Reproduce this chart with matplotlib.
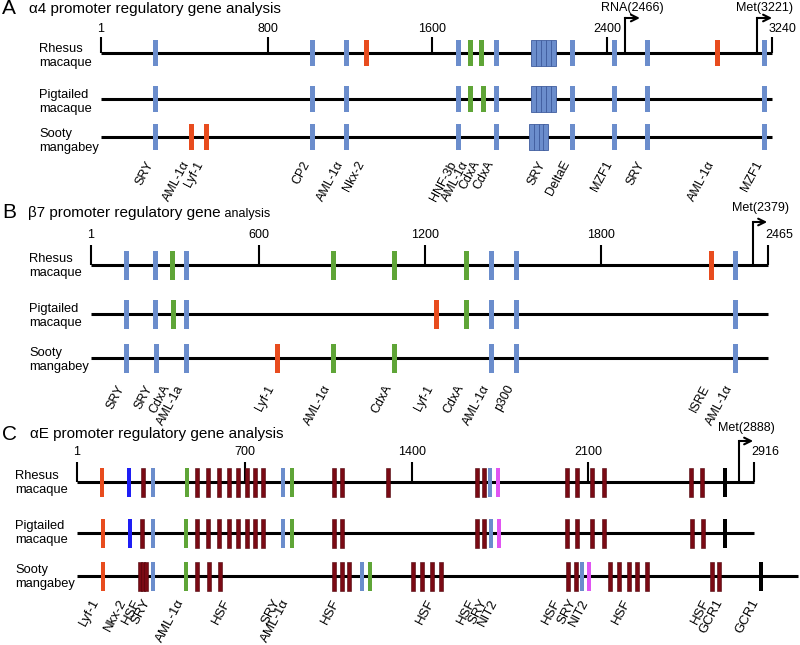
import matplotlib
matplotlib.use("Agg")
import matplotlib.pyplot as plt
from matplotlib.transforms import offset_copy

plt.rcParams["font.family"] = ["Liberation Sans", "DejaVu Sans"]

# ===== Colours =====
COLORS = {
    "b": "#6B8DCC",  # light blue
    "c": "#6B8DCC",  # light blue, boxed cluster
    "r": "#E84C1E",  # red-orange
    "g": "#5FA537",  # green
    "m": "#7A0A14",  # maroon
    "n": "#1E1EF5",  # pure blue
    "p": "#E055F2",  # magenta
    "k": "#000000",
}

SPECIES = ["Rhesus\nmacaque", "Pigtailed\nmacaque", "Sooty\nmangabey"]

# ===== Panel A: alpha4 promoter =====
A_TITLE = "α4 promoter regulatory gene analysis"
A_LENGTHS = [3240, 3240, 3240]
A_TICKS = [1, 807, 1599, 2443, 3240]
A_TICK_LABELS = ["1", "800", "1600", "2400", "3240"]
A_ARROWS = [2530, 3168]
A_ARROW_LABELS = ["RNA(2466)", "Met(3221)"]

A_RHESUS_POS = [266, 1024, 1184, 1285, 1729, 1787, 1840, 1908, 2088, 2112, 2136,
                2160, 2184, 2275, 2482, 2637, 2975, 3206]
A_RHESUS_COL = "bbbrbggbcccccbbbrb"
A_PIG_POS = [266, 1024, 1184, 1729, 1787, 1845, 1908, 2088, 2112, 2136, 2160, 2184,
             2275, 2482, 2637, 3206]
A_PIG_COL = "bbbbggbcccccbbbb"
A_SOOTY_POS = [266, 440, 508, 1024, 1184, 1729, 1908, 2077, 2101, 2125, 2149, 2275,
               2482, 2637, 3206]
A_SOOTY_COL = "brrbbbbccccbbbb"

A_LABEL_POS = [266, 440, 508, 1024, 1184, 1285, 1729, 1787, 1840, 1908, 2159, 2275,
               2482, 2637, 2975, 3206]
A_LABELS = ["SRY", "AML-1α", "Lyf-1", "CP2", "AML-1α", "Nkx-2", "HNF-3b", "AML-1α",
            "CdxA", "CdxA", "SRY", "DeltaE", "MZF1", "SRY", "AML-1α", "MZF1"]

# ===== Panel B: beta7 promoter =====
B_TITLE = "β7 promoter regulatory gene"
B_TITLE_SMALL = " analysis"
B_LENGTHS = [2465, 2465, 2465]
B_TICKS = [1, 612, 1217, 1857, 2465]
B_TICK_LABELS = ["1", "600", "1200", "1800", "2465"]
B_ARROWS = [2411]
B_ARROW_LABELS = ["Met(2379)"]

B_RHESUS_POS = [132, 234, 296, 347, 882, 1104, 1366, 1460, 1548, 2261, 2345]
B_RHESUS_COL = "bbgbgggbbrb"
B_PIG_POS = [132, 234, 303, 347, 1257, 1366, 1460, 1548, 2345]
B_PIG_COL = "bbgbrgbbb"
B_SOOTY_POS = [132, 238, 347, 678, 882, 1104, 1460, 1548, 2345]
B_SOOTY_COL = "bbbrggbbb"

B_LABEL_POS = [132, 234, 296, 347, 678, 882, 1104, 1257, 1366, 1460, 1548, 2261, 2345]
B_LABELS = ["SRY", "SRY", "CdxA", "AML-1a", "Lyf-1", "AML-1α", "CdxA", "Lyf-1",
            "CdxA", "AML-1α", "p300", "ISRE", "AML-1α"]

# ===== Panel C: alphaE promoter =====
C_TITLE = "αE promoter regulatory gene analysis"
C_LENGTHS = [2916, 2916, 3106]
C_TICKS = [1, 724, 1444, 2201, 2916]
C_TICK_LABELS = ["1", "700", "1400", "2100", "2916"]
C_ARROWS = [2852]
C_ARROW_LABELS = ["Met(2888)"]

C_RHESUS_POS = [109, 225, 285, 328, 475, 516, 567, 614, 656, 693, 731, 767, 803, 888,
                927, 1108, 1142, 1340, 1723, 1753, 1779, 1814, 2111, 2154, 2218, 2270,
                2645, 2692, 2791]
C_RHESUS_COL = "rnmbgmmmmmmmmbgmmmmmbpmmmmmmk"
C_PIG_POS = [113, 229, 281, 328, 470, 516, 567, 614, 656, 693, 731, 767, 803, 888,
             927, 1108, 1142, 1723, 1753, 1783, 1818, 2111, 2154, 2218, 2270, 2649,
             2696, 2791]
C_PIG_COL = "rnmbgmmmmmmmmbgmmmmbpmmmmmmk"
C_SOOTY_POS = [113, 272, 285, 298, 328, 470, 518, 569, 617, 1108, 1142, 1172, 1228,
               1263, 1448, 1487, 1530, 1568, 2115, 2150, 2175, 2205, 2296, 2335, 2378,
               2413, 2456, 2735, 2765, 2946]
C_SOOTY_COL = "rmmmbgmmmmmmbgmmmmmmbpmmmmmmmk"

C_LABEL_POS = [109, 225, 285, 328, 475, 672, 888, 927, 1142, 1551, 1728, 1778, 1822,
               2095, 2160, 2215, 2395, 2735, 2791, 2946]
C_LABELS = ["Lyf-1", "Nkx-2", "HSF", "SRY", "AML-1α", "HSF", "SRY", "AML-1α", "HSF",
            "HSF", "HSF", "SRY", "NIT2", "HSF", "SRY", "NIT2", "HSF", "HSF", "GCR1",
            "GCR1"]

W, H = 800, 645


def make_axes(fig, px_start, px_end, bp_end):
    ax = fig.add_axes([0, 0, 1, 1])
    k = (px_end - px_start) / (bp_end - 1)
    ax.set_xlim(1 - px_start / k, 1 + (W - px_start) / k)
    ax.set_ylim(H, 0)
    ax.axis("off")
    return ax, k


def draw_panel(fig, page, ax, k, lay, rows, lengths, ticks, tick_labels,
               arrows, arrow_labels, label_pos, labels):
    rows_y = lay["rows"]
    half = lay["half"]
    bw = lay["bar_px"] / k

    for (pos, cols), y, length in zip(rows, rows_y, lengths):
        ax.plot([1, length], [y, y], color="k", lw=2.2, solid_capstyle="butt", zorder=2)
        for code in set(cols):
            xs = [p for p, c in zip(pos, cols) if c == code]
            if code == "c":
                edge, lw = "#3F5C9E", 0.6
            elif code == "m":
                edge, lw = "#4E040B", 0.4
            else:
                edge, lw = "none", 0
            ax.bar(xs, 2 * half, width=bw, bottom=y - half, color=COLORS[code],
                   edgecolor=edge, linewidth=lw, zorder=3)

    y0 = rows_y[0]
    ax.vlines(ticks, lay["tick_top"], y0, color="k", lw=1.5, zorder=2)
    last_tr = offset_copy(ax.transData, fig=fig, x=-3, y=0, units="dots")
    for i, (t, lab) in enumerate(zip(ticks, tick_labels)):
        if i == len(ticks) - 1:
            ax.text(t, lay["tick_lab"], lab, ha="left", va="bottom", fontsize=9,
                    transform=last_tr)
        else:
            ax.text(t, lay["tick_lab"], lab, ha="center", va="bottom", fontsize=9)

    alen = lay["arrow_px"] / k
    for x, lab in zip(arrows, arrow_labels):
        ax.plot([x, x], [y0, lay["arrow_top"]], color="k", lw=1.5, zorder=2)
        ax.annotate("", xy=(x + alen, lay["arrow_top"]), xytext=(x, lay["arrow_top"]),
                    arrowprops=dict(arrowstyle="->", color="k", lw=1.5, shrinkA=0,
                                    shrinkB=0, mutation_scale=12))
        ax.text(x + alen / 2, lay["arrow_lab"], lab, ha="center", va="center", fontsize=9)

    for x, lab in zip(label_pos, labels):
        ax.text(x, lay["lab_top"], lab, rotation=62, ha="right", va="top",
                fontsize=lay["lab_fs"])

    for name, y in zip(SPECIES, lay["species_y"]):
        page.text(lay["species_x"], y, name, ha="left", va="center", fontsize=9.3,
                  linespacing=1.22)

    page.text(2, lay["title_y"], lay["letter"], ha="left", va="center", fontsize=15)


def main():
    fig = plt.figure(figsize=(W / 100, H / 100), dpi=100)
    page = fig.add_axes([0, 0, 1, 1])
    page.set_xlim(0, W)
    page.set_ylim(H, 0)
    page.axis("off")

    # Panel A
    ax, k = make_axes(fig, 101, 772, 3240)
    lay_a = dict(rows=[53, 99, 137], half=13, bar_px=5, tick_top=37, tick_lab=35,
                 arrow_top=18, arrow_px=15, arrow_lab=8, lab_top=159, lab_fs=9,
                 title_y=9, species_x=39, species_y=[56, 102, 141], letter="A")
    draw_panel(fig, page, ax, k, lay_a,
               [(A_RHESUS_POS, A_RHESUS_COL), (A_PIG_POS, A_PIG_COL),
                (A_SOOTY_POS, A_SOOTY_COL)],
               A_LENGTHS, A_TICKS, A_TICK_LABELS, A_ARROWS, A_ARROW_LABELS,
               A_LABEL_POS, A_LABELS)
    page.text(29, 9, A_TITLE, ha="left", va="center", fontsize=11)

    # Panel B
    ax, k = make_axes(fig, 91, 768, 2465)
    lay_b = dict(rows=[265, 314, 358], half=14.5, bar_px=5, tick_top=245, tick_lab=241,
                 arrow_top=222, arrow_px=14, arrow_lab=208, lab_top=383, lab_fs=9,
                 title_y=213, species_x=29, species_y=[266, 316, 360], letter="B")
    draw_panel(fig, page, ax, k, lay_b,
               [(B_RHESUS_POS, B_RHESUS_COL), (B_PIG_POS, B_PIG_COL),
                (B_SOOTY_POS, B_SOOTY_COL)],
               B_LENGTHS, B_TICKS, B_TICK_LABELS, B_ARROWS, B_ARROW_LABELS,
               B_LABEL_POS, B_LABELS)
    t1 = page.text(28, 213, B_TITLE, ha="left", va="center", fontsize=11)
    page.annotate(B_TITLE_SMALL, xy=(1, 0), xycoords=t1, ha="left", va="bottom",
                  fontsize=9)

    # Panel C
    ax, k = make_axes(fig, 77, 754, 2916)
    lay_c = dict(rows=[482, 533, 576], half=14.5, bar_px=4, tick_top=462, tick_lab=458,
                 arrow_top=441, arrow_px=14, arrow_lab=428, lab_top=597, lab_fs=9.5,
                 title_y=434, species_x=15, species_y=[483, 533, 577], letter="C")
    draw_panel(fig, page, ax, k, lay_c,
               [(C_RHESUS_POS, C_RHESUS_COL), (C_PIG_POS, C_PIG_COL),
                (C_SOOTY_POS, C_SOOTY_COL)],
               C_LENGTHS, C_TICKS, C_TICK_LABELS, C_ARROWS, C_ARROW_LABELS,
               C_LABEL_POS, C_LABELS)
    page.text(30, 434, C_TITLE, ha="left", va="center", fontsize=11)

    fig.savefig("out.png", dpi=100)


if __name__ == "__main__":
    main()
